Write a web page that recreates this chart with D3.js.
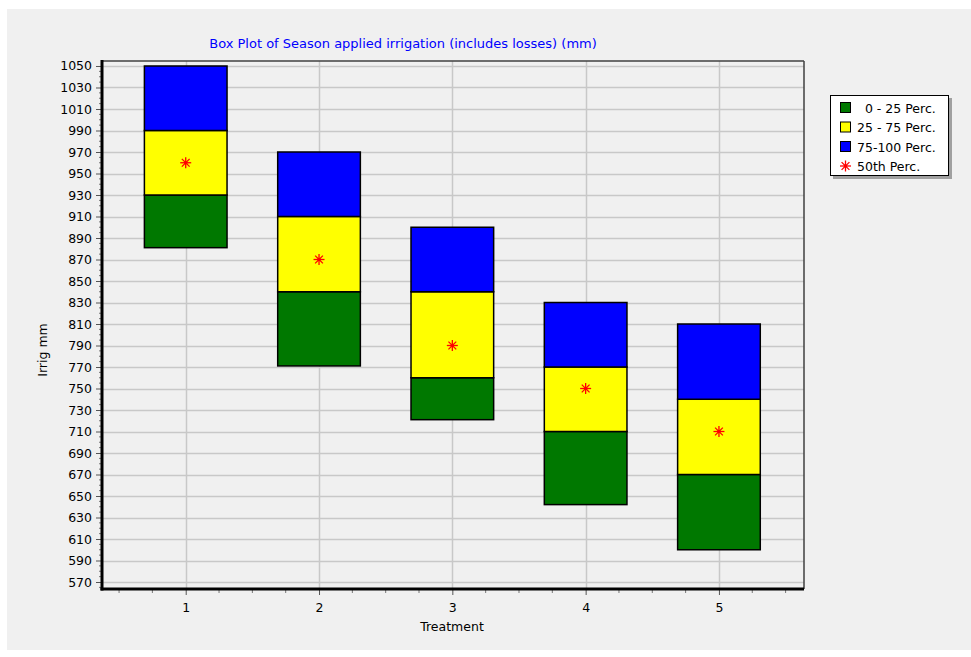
<!DOCTYPE html>
<html>
<head>
<meta charset="utf-8">
<script src="https://cdn.jsdelivr.net/npm/d3@7"></script>
<style>
  html, body { margin: 0; padding: 0; background: #ffffff; }
  svg text { font-family: "DejaVu Sans", Verdana, sans-serif; }
</style>
</head>
<body>
<svg id="chart" width="971" height="657"></svg>
<script>
// Season applied irrigation per treatment (mm)
const treatments = [1, 2, 3, 4, 5];
const minVals    = [881, 771, 721, 642, 600];
const q1Vals     = [930, 840, 760, 710, 670];
const medianVals = [960, 870, 790, 750, 710];
const q3Vals     = [990, 910, 840, 770, 740];
const maxVals    = [1050, 970, 900, 830, 810];

const yTicks = d3.range(570, 1051, 20);
const xTicks = [1, 2, 3, 4, 5];

const legendItems = [
  { label: "  0 - 25 Perc.", color: "#007800", kind: "box" },
  { label: "25 - 75 Perc.",  color: "#ffff00", kind: "box" },
  { label: "75-100 Perc.",   color: "#0000ff", kind: "box" },
  { label: "50th Perc.",     color: "#ff0000", kind: "star" }
];

const svg = d3.select("#chart");

// window panel
svg.append("rect").attr("x", 7).attr("y", 9).attr("width", 964).attr("height", 641)
  .attr("fill", "#f0f0f0");

const plot = { left: 102, right: 804, top: 61, bottom: 589 };

const x = d3.scaleLinear().domain([0.372, 5.638]).range([plot.left, plot.right]);
const y = d3.scaleLinear().domain([563.5, 1054.65]).range([plot.bottom, plot.top]);

// grid
const grid = svg.append("g").attr("stroke", "#c8c8c8").attr("stroke-width", 1.5);
grid.selectAll("line.h").data(yTicks).join("line")
  .attr("x1", plot.left).attr("x2", plot.right)
  .attr("y1", d => Math.round(y(d)) + 0.5).attr("y2", d => Math.round(y(d)) + 0.5);
grid.selectAll("line.v").data(xTicks).join("line")
  .attr("y1", plot.top).attr("y2", plot.bottom)
  .attr("x1", d => Math.round(x(d)) + 0.5).attr("x2", d => Math.round(x(d)) + 0.5);

// boxes: three stacked segments per treatment
const halfW = 0.31;
const segs = [];
treatments.forEach((t, i) => {
  segs.push({ t, lo: minVals[i], hi: q1Vals[i], color: "#007800" });
  segs.push({ t, lo: q1Vals[i], hi: q3Vals[i], color: "#ffff00" });
  segs.push({ t, lo: q3Vals[i], hi: maxVals[i], color: "#0000ff" });
});
svg.append("g").selectAll("rect").data(segs).join("rect")
  .attr("x", d => x(d.t - halfW))
  .attr("width", d => x(d.t + halfW) - x(d.t - halfW))
  .attr("y", d => y(d.hi))
  .attr("height", d => y(d.lo) - y(d.hi))
  .attr("fill", d => d.color)
  .attr("stroke", "#000")
  .attr("stroke-width", 1.5);

// median star marker
function star(g, cx, cy, r) {
  const s = g.append("g").attr("transform", `translate(${cx},${cy})`)
    .attr("stroke", "#ff0000").attr("stroke-width", 1.3);
  for (let k = 0; k < 4; k++) {
    const a = k * Math.PI / 4;
    s.append("line")
      .attr("x1", -r * Math.cos(a)).attr("y1", -r * Math.sin(a))
      .attr("x2", r * Math.cos(a)).attr("y2", r * Math.sin(a));
  }
  s.append("circle").attr("r", 1.8).attr("fill", "#ff0000").attr("stroke", "none");
}
const medG = svg.append("g");
treatments.forEach((t, i) => star(medG, x(t), y(medianVals[i]), 5.5));

// frame (top and right thin, left and bottom heavy)
svg.append("line").attr("x1", plot.left).attr("x2", plot.right).attr("y1", plot.top).attr("y2", plot.top)
  .attr("stroke", "#404040").attr("stroke-width", 1.5);
svg.append("line").attr("x1", plot.right).attr("x2", plot.right).attr("y1", plot.top).attr("y2", plot.bottom)
  .attr("stroke", "#404040").attr("stroke-width", 1.5);

// y axis
const yAxis = d3.axisLeft(y).tickValues(yTicks).tickSize(5).tickPadding(4).tickFormat(d3.format("d"));
const yg = svg.append("g").attr("transform", `translate(${plot.left - 1},0)`).call(yAxis);
yg.select(".domain").remove();
yg.selectAll("text").attr("font-size", 12.5).attr("fill", "#000");
yg.selectAll("line").attr("stroke", "#555");
// minor y ticks
svg.append("g").selectAll("line").data(d3.range(565, 1055, 5).filter(v => v % 20 !== 10))
  .join("line")
  .attr("x1", plot.left - 3).attr("x2", plot.left)
  .attr("y1", d => y(d)).attr("y2", d => y(d))
  .attr("stroke", "#777").attr("stroke-width", 1);
svg.append("line").attr("x1", plot.left).attr("x2", plot.left).attr("y1", plot.top - 1).attr("y2", plot.bottom + 1.5)
  .attr("stroke", "#000").attr("stroke-width", 3);

// x axis
const xAxis = d3.axisBottom(x).tickValues(xTicks).tickSize(5).tickPadding(8).tickFormat(d3.format("d"));
const xg = svg.append("g").attr("transform", `translate(0,${plot.bottom + 1})`).call(xAxis);
xg.select(".domain").remove();
xg.selectAll("text").attr("font-size", 12.5).attr("fill", "#000");
xg.selectAll("line").attr("stroke", "#555");
svg.append("g").selectAll("line").data(d3.range(0.5, 5.6, 0.25).filter(v => v % 1 !== 0))
  .join("line")
  .attr("x1", d => x(d)).attr("x2", d => x(d))
  .attr("y1", plot.bottom + 1).attr("y2", plot.bottom + 4)
  .attr("stroke", "#777");
svg.append("line").attr("x1", plot.left - 1.5).attr("x2", plot.right).attr("y1", plot.bottom).attr("y2", plot.bottom)
  .attr("stroke", "#000").attr("stroke-width", 3);

// titles
svg.append("text").attr("x", 403).attr("y", 48).attr("text-anchor", "middle")
  .attr("font-size", 13).attr("fill", "#0000ff")
  .text("Box Plot of Season applied irrigation (includes losses) (mm)");
svg.append("text").attr("x", 452).attr("y", 631).attr("text-anchor", "middle")
  .attr("font-size", 12.5).attr("fill", "#000").text("Treatment");
svg.append("text").attr("transform", "translate(47,350) rotate(-90)").attr("text-anchor", "middle")
  .attr("font-size", 12.5).attr("fill", "#000").text("Irrig mm");

// legend
const lg = svg.append("g");
lg.append("rect").attr("x", 833).attr("y", 98).attr("width", 119).attr("height", 81).attr("fill", "#a0a0a0");
lg.append("rect").attr("x", 830.5).attr("y", 95.5).attr("width", 118).attr("height", 80)
  .attr("fill", "#fff").attr("stroke", "#000").attr("stroke-width", 1);
legendItems.forEach((d, i) => {
  const cy = 108 + i * 19.5;
  if (d.kind === "box") {
    lg.append("rect").attr("x", 840.5).attr("y", cy - 5.5).attr("width", 10).attr("height", 10)
      .attr("fill", d.color).attr("stroke", "#000").attr("stroke-width", 1);
  } else {
    star(lg, 845.5, cy - 0.5, 5.5);
  }
  lg.append("text").attr("x", 857).attr("y", cy + 4.5).attr("font-size", 12.5)
    .attr("fill", "#000").style("white-space", "pre").text(d.label);
});
</script>
</body>
</html>
